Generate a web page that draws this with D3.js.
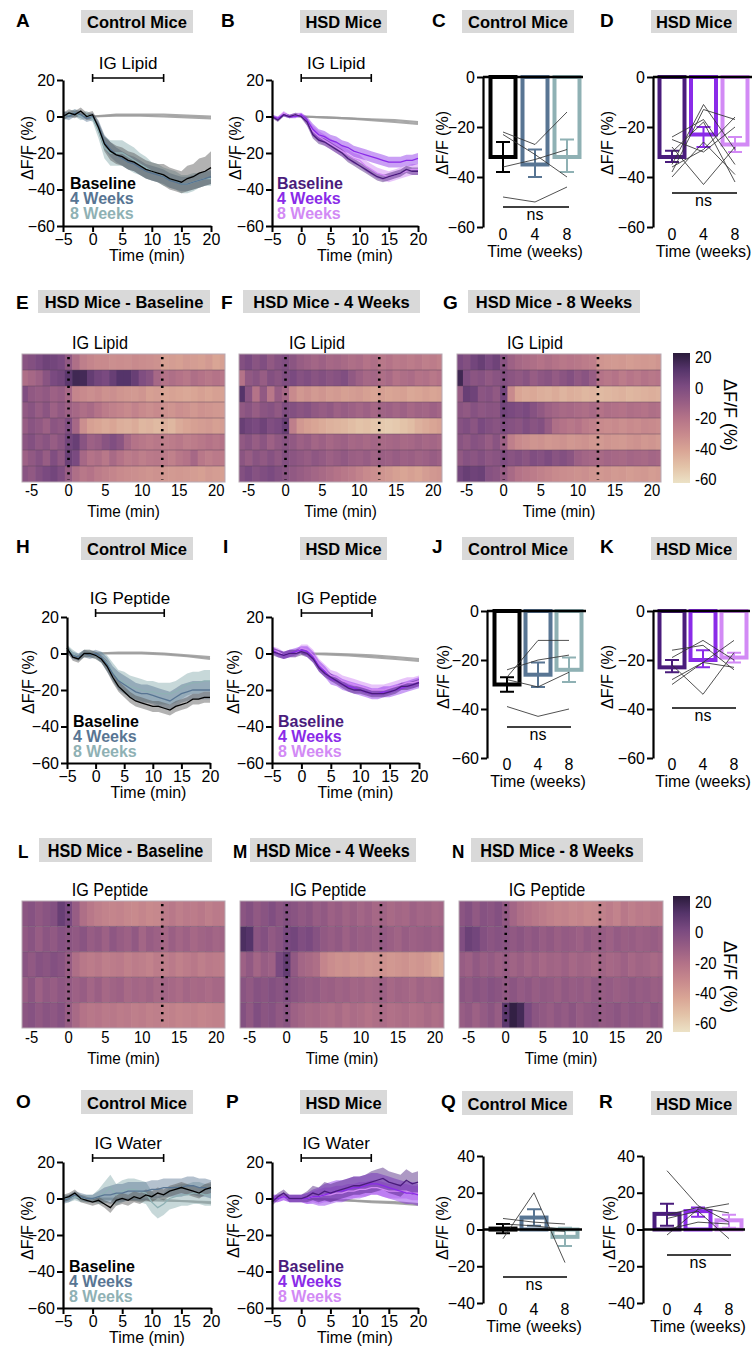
<!DOCTYPE html>
<meta charset="utf-8">
<style>
html,body{margin:0;padding:0;background:#fff;}
svg{display:block;}
</style>
<body>
<script src="https://d3js.org/d3.v7.min.js"></script>
<script>

// ---------- data ----------
var minutes = [-5,-4,-3,-2,-1,0,1,2,3,4,5,6,7,8,9,10,11,12,13,14,15,16,17,18,19,20];
var grayMinutes = [0,4,8,12,16,20];
var heatMinutes = [-6,-5,-4,-3,-2,-1,0,1,2,3,4,5,6,7,8,9,10,11,12,13,14,15,16,17,18,19,20,21];
var weeks = [0,4,8];
var infusion = [0,12];
var heatMarks = [0,12.7];
var legendNames = ["Baseline","4 Weeks","8 Weeks"];

// lipid, control
var ctlLipidBase = [0,2,1,3,0,1,-6,-15,-19,-21,-22,-24,-25,-27,-29,-30,-31,-32,-34,-35,-36,-34,-33,-31,-30,-28];
var ctlLipidBaseSem = [2,2,2,2,2,2,3,4,5,5,5,5,5,5,5,5,5,6,6,6,6,7,7,8,8,9];
var ctlLipid4w = [1,0,2,1,-1,0,-5,-14,-18,-21,-23,-25,-26,-28,-30,-31,-32,-33,-35,-36,-37,-37,-36,-35,-34,-33];
var ctlLipid4wSem = [2,2,2,2,2,2,3,4,4,4,4,4,4,4,4,4,4,4,4,4,4,4,4,4,4,4];
var ctlLipid8w = [0,1,2,0,1,-1,-8,-17,-20,-20,-20,-22,-24,-26,-28,-30,-31,-33,-34,-35,-37,-37,-36,-35,-34,-34];
var ctlLipid8wSem = [2,2,2,2,2,2,4,6,7,7,7,7,7,6,6,5,5,5,5,5,5,5,5,4,4,4];
var ctlLipidGray = [[0,1,1,1,0.5,0],[0,0.5,0.5,0,-0.5,-1]];

// lipid, HSD
var hsdLipidBase = [0,-2,1,0,1,0,-3,-10,-13,-14,-16,-18,-20,-23,-25,-27,-29,-31,-33,-34,-33,-32,-31,-29,-30,-30];
var hsdLipidBaseSem = [1,1,1,1,1,1,2,2,2,2,2,2,2,2,2,2,2,2,2,2,2,2,2,2,2,2];
var hsdLipid4w = [0,-1,1,0,0,1,-2,-7,-10,-11,-13,-14,-16,-17,-19,-20,-21,-22,-23,-24,-25,-25,-25,-24,-24,-23];
var hsdLipid4wSem = [1,1,1,1,1,1,2,3,3,3,3,3,3,3,3,3,3,3,3,3,3,3,3,3,3,3];
var hsdLipid8w = [0,-1,2,0,1,1,-3,-8,-11,-13,-15,-17,-19,-21,-23,-24,-27,-29,-31,-32,-33,-32,-31,-30,-29,-29];
var hsdLipid8wSem = [1,1,1,1,1,1,2,3,3,3,3,3,3,3,3,3,3,3,3,3,3,3,3,3,3,3];
var hsdLipidGray = [[0,-0.5,-1,-1.5,-2,-3],[0,-0.5,-1,-2,-3,-4]];

// peptide, control
var ctlPepBase = [3,-2,-3,0,0,-1,-3,-7,-13,-18,-21,-24,-26,-27,-28,-29,-29,-30,-31,-29,-28,-27,-25,-25,-24,-24];
var ctlPepBaseSem = [2,2,2,2,2,2,2,3,3,3,3,3,3,3,3,3,3,3,3,3,3,3,3,3,3,3];
var ctlPep4w = [2,-1,-2,0,-1,0,-2,-6,-11,-15,-17,-19,-21,-22,-22,-23,-24,-25,-26,-24,-22,-21,-20,-20,-20,-20];
var ctlPep4wSem = [2,2,2,2,2,2,3,4,4,5,5,5,5,5,5,5,5,5,5,5,5,5,5,5,5,5];
var ctlPep8w = [3,0,-2,0,0,-1,-2,-5,-10,-14,-16,-18,-19,-20,-21,-21,-22,-22,-22,-21,-19,-17,-16,-16,-15,-15];
var ctlPep8wSem = [2,2,2,2,2,2,3,4,5,5,6,6,6,6,6,6,6,6,6,6,6,6,6,6,6,6];
var ctlPepGray = [[0,0.5,0.5,0,-1,-2],[0,0,0,-0.5,-1.5,-3]];

// peptide, HSD
var hsdPepBase = [1,0,-1,0,0,1,0,-3,-8,-11,-13,-15,-17,-19,-20,-20,-21,-22,-22,-22,-21,-20,-18,-18,-17,-16];
var hsdPepBaseSem = [2,2,2,2,2,2,2,2,2,2,2,2,2,2,2,2,2,2,2,2,2,2,2,2,2,2];
var hsdPep4w = [2,0,-1,0,1,2,1,-2,-7,-10,-14,-15,-17,-18,-19,-20,-21,-22,-22,-21,-21,-20,-19,-18,-17,-16];
var hsdPep4wSem = [2,2,2,2,2,2,3,3,3,3,3,3,3,3,3,3,3,3,3,3,3,3,3,3,3,3];
var hsdPep8w = [2,1,-1,0,0,3,2,-1,-6,-9,-12,-13,-15,-16,-17,-18,-19,-20,-20,-20,-19,-18,-17,-16,-16,-15];
var hsdPep8wSem = [2,2,2,2,2,2,3,3,3,3,3,3,3,3,3,3,3,3,3,3,3,3,3,3,3,3];
var hsdPepGray = [[0,0,-0.5,-1,-2,-3],[0,-0.5,-1,-2,-3,-4]];

// water, control
var ctlWaterBase = [0,1,3,0,-1,-2,-1,-3,-5,-1,0,-1,1,0,2,1,3,2,4,5,6,5,4,3,5,6];
var ctlWaterBaseSem = [2,2,2,2,2,2,2,2,3,3,3,3,3,3,3,3,3,3,3,3,3,3,3,3,3,3];
var ctlWater4w = [-1,0,2,1,0,0,1,2,2,3,3,4,4,4,4,5,5,6,6,6,6,7,7,6,6,5];
var ctlWater4wSem = [2,2,2,2,2,2,3,4,5,5,5,5,5,5,5,5,5,5,5,5,5,5,5,5,5,5];
var ctlWater8w = [0,0,1,0,0,0,1,3,6,2,4,5,5,4,3,-2,-5,-3,0,1,2,2,3,3,2,2];
var ctlWater8wSem = [2,2,2,2,2,2,4,6,7,6,6,6,6,6,6,6,6,6,6,6,6,6,6,6,6,6];
var ctlWaterGray = [[0,-0.5,-1,-1,-1.5,-2],[0,0,-0.5,-1,-1.5,-2.5]];

// water, HSD
var hsdWaterBase = [-2,1,3,0,0,0,1,3,2,4,3,4,5,6,7,7,8,9,10,11,9,8,7,10,8,9];
var hsdWaterBaseSem = [2,2,2,2,2,2,3,4,4,5,5,5,5,5,5,5,5,6,6,6,6,6,6,6,6,6];
var hsdWater4w = [0,0,1,0,0,0,0,1,1,2,3,4,4,5,6,6,7,8,8,7,6,5,4,3,3,2];
var hsdWater4wSem = [2,2,2,2,2,2,3,4,5,6,6,6,6,6,6,6,6,6,6,6,6,6,6,6,6,6];
var hsdWater8w = [0,0,1,0,0,0,0,1,1,2,2,3,3,4,4,5,5,6,6,5,4,4,4,4,3,3];
var hsdWater8wSem = [2,2,2,2,2,2,3,3,4,4,4,4,4,4,4,4,4,4,4,4,4,4,4,4,4,4];
var hsdWaterGray = [[0,-0.5,-1,-1.5,-2,-3],[0,-0.5,-1,-2,-2.5,-3.5]];

// bar summaries (mean, error range, individual mice at 0/4/8 weeks)
var ctlLipidMeans = [-32,-35,-32];
var ctlLipidErr = [[-38,-26],[-40,-29],[-38,-25]];
var ctlLipidMice = [[-22,-27,-14],[-23,-31,-40],[-36,-33,-29],[-48,-50,-44]];
var hsdLipidMeans = [-32,-23,-27];
var hsdLipidErr = [[-34,-29.5],[-28,-20],[-30,-24]];
var hsdLipidMice = [[-38,-13,-17],[-24,-17,-35],[-36,-29,-16],[-28,-43,-28],[-40,-26,-39],[-30,-18,-42],[-25,-30,-20],[-35,-11,-29]];
var ctlPepMeans = [-30,-26,-24];
var ctlPepErr = [[-33,-27],[-31,-21],[-29,-19]];
var ctlPepMice = [[-27,-12,-12],[-24,-20,-18],[-28,-31,-25],[-39,-43,-40]];
var hsdPepMeans = [-23,-20,-19];
var hsdPepErr = [[-25,-20],[-23,-16],[-21,-17]];
var hsdPepMice = [[-16,-14,-24],[-19,-12,-20],[-22,-34,-17],[-28,-21,-12],[-30,-21,-23]];
var ctlWaterMeans = [0.5,6.5,-4];
var ctlWaterErr = [[-2,3],[2,11],[-9,1]];
var ctlWaterMice = [[-5,20,-18],[6,4,3],[3,2,0],[0,0,-1]];
var hsdWaterMeans = [8.5,10,5];
var hsdWaterErr = [[2,14],[7,12],[1,8]];
var hsdWaterMice = [[32,13,4],[-3,11,14],[8,12,9],[6,10,-5],[0,4,3]];

// heatmaps, one row per HSD mouse, columns = heatMinutes
var lipidHeatBase = [
 [-5,-3,0,3,2,0,-8,-18,-25,-28,-30,-30,-32,-31,-32,-30,-31,-32,-33,-38,-37,-38,-36,-37,-38,-36,-40,-38],
 [-18,-15,-12,-5,0,2,8,15,14,6,2,0,5,10,10,5,-2,-5,-15,-20,-18,-20,-22,-18,-20,-22,-20,-22],
 [-2,-8,-10,-8,-12,-10,-15,-28,-30,-32,-30,-33,-32,-34,-35,-36,-34,-38,-37,-40,-39,-40,-41,-40,-38,-40,-38,-39],
 [-8,-5,-10,-6,-12,-8,-12,-15,-18,-16,-20,-24,-26,-28,-30,-27,-30,-32,-30,-33,-34,-32,-33,-35,-33,-34,-35,-36],
 [-10,-5,-8,-12,-6,-8,-2,-15,-32,-38,-40,-42,-40,-43,-44,-42,-46,-45,-47,-44,-46,-42,-40,-38,-37,-36,-38,-37],
 [-6,-3,-8,-5,-10,-6,2,5,-5,-12,-10,-5,-2,-6,-15,-20,-22,-24,-22,-25,-24,-22,-25,-24,-22,-20,-22,-20],
 [-12,-8,-4,-10,-2,-8,4,0,-15,-20,-18,-22,-16,-20,-24,-22,-25,-23,-22,-24,-26,-22,-20,-15,-22,-25,-23,-24],
 [-5,-8,-3,0,2,-2,-10,-18,-22,-20,-24,-26,-28,-30,-31,-32,-33,-34,-33,-35,-36,-35,-36,-37,-38,-36,-37,-38]
];
var lipidHeat4w = [
 [-3,0,-5,-2,-8,-4,-2,-6,-10,-12,-14,-12,-15,-14,-16,-18,-17,-20,-18,-22,-20,-23,-22,-24,-22,-25,-24,-26],
 [-20,-8,-5,-10,-3,-6,-2,0,-4,-2,-5,-3,-6,-4,-2,-8,-12,-15,-14,-18,-16,-20,-18,-17,-20,-19,-22,-20],
 [10,-5,-20,-8,-22,-10,-15,-30,-35,-33,-36,-34,-37,-36,-38,-37,-36,-38,-40,-38,-40,-39,-38,-41,-40,-38,-40,-39],
 [-8,-5,-10,-6,-4,-8,-2,-3,-6,-4,-8,-10,-8,-12,-10,-12,-14,-12,-15,-13,-12,-14,-12,-15,-13,-14,-12,-14],
 [5,2,0,3,-2,0,5,-25,-35,-38,-40,-42,-44,-45,-46,-48,-50,-49,-51,-52,-53,-52,-50,-48,-44,-42,-40,-38],
 [-8,-5,-10,-6,-12,-8,-5,-8,-12,-10,-14,-12,-15,-13,-12,-15,-14,-16,-14,-16,-15,-14,-16,-15,-13,-15,-14,-16],
 [-6,-10,-5,-8,-4,-8,-3,-6,-8,-10,-7,-9,-12,-10,-8,-11,-12,-10,-13,-11,-12,-10,-12,-11,-13,-12,-10,-12],
 [-3,0,-4,-2,0,-3,-5,-8,-10,-12,-14,-16,-18,-20,-22,-24,-27,-30,-32,-34,-36,-38,-40,-38,-40,-37,-35,-34]
];
var lipidHeat8w = [
 [0,-3,2,5,0,3,-5,-12,-15,-17,-18,-20,-18,-20,-22,-21,-22,-24,-25,-34,-35,-36,-35,-37,-36,-35,-36,-34],
 [15,-2,-6,-4,-8,-5,-3,-6,-8,-5,-10,-7,-5,-9,-6,-3,-8,-5,-10,-20,-22,-20,-24,-21,-23,-20,-22,-21],
 [-10,5,3,-6,-4,-8,2,-30,-40,-42,-41,-43,-44,-42,-45,-43,-44,-46,-45,-47,-46,-45,-44,-46,-45,-44,-43,-44],
 [-6,-8,-4,-7,-5,-6,2,0,-2,0,-4,-8,-12,-14,-16,-15,-17,-18,-16,-20,-18,-19,-20,-18,-19,-20,-18,-19],
 [-4,-2,-6,0,-3,-5,-2,-4,-6,-2,-5,-3,-10,-18,-20,-22,-20,-24,-26,-30,-31,-30,-32,-30,-31,-29,-30,-31],
 [-5,-8,-4,-6,-10,-5,-12,-25,-30,-32,-34,-33,-35,-34,-33,-35,-34,-33,-35,-36,-34,-35,-36,-34,-33,-35,-34,-36],
 [-8,-4,-6,-3,-7,-5,-2,-5,-3,-6,-2,-4,-1,-5,-3,-6,-12,-14,-15,-16,-14,-15,-16,-14,-15,-16,-14,-15],
 [2,5,3,4,-4,-6,-10,-16,-20,-22,-24,-26,-28,-30,-31,-32,-33,-32,-34,-35,-34,-36,-35,-37,-36,-35,-37,-36]
];
var pepHeatBase = [
 [-6,-4,-8,-5,-3,5,0,-10,-18,-22,-25,-27,-28,-27,-29,-30,-28,-30,-29,-24,-22,-25,-23,-24,-22,-25,-23,-24],
 [-8,-5,-10,-6,-8,-4,-6,-8,-5,-10,-8,-12,-7,-10,-12,-8,-14,-10,-12,-15,-11,-14,-12,-15,-13,-12,-14,-13],
 [-5,-8,-4,-6,-3,-5,-10,-18,-22,-24,-22,-25,-24,-23,-26,-24,-25,-27,-24,-25,-23,-26,-24,-22,-25,-23,-24,-25],
 [-10,-6,-12,-8,-10,-7,-9,-12,-10,-14,-11,-15,-13,-12,-16,-14,-15,-13,-16,-14,-15,-17,-14,-16,-15,-17,-15,-16],
 [-6,-4,-8,-5,-7,-4,-10,-16,-20,-22,-21,-23,-22,-24,-23,-25,-24,-26,-25,-27,-26,-28,-27,-26,-28,-27,-26,-27]
];
var pepHeat4w = [
 [-6,-3,-8,-5,-2,-6,-3,-5,-8,-6,-10,-8,-12,-10,-13,-11,-14,-12,-15,-13,-16,-14,-15,-12,-14,-13,-15,-14],
 [12,10,-6,-3,-8,-5,0,2,-2,0,-4,-8,-10,-8,-12,-9,-11,-10,-12,-9,-11,-13,-10,-12,-11,-10,-12,-11],
 [-12,-8,-14,-10,-12,0,6,-8,-14,-16,-18,-28,-31,-33,-32,-34,-33,-35,-34,-33,-35,-34,-33,-35,-34,-36,-40,-42],
 [-5,-8,-4,-6,-3,-5,-2,-6,-8,-10,-9,-12,-11,-13,-12,-14,-13,-15,-14,-12,-15,-13,-14,-16,-13,-15,-14,-13],
 [-3,-8,-2,-6,-4,-8,-5,-12,-14,-16,-15,-17,-18,-16,-19,-17,-18,-20,-18,-17,-19,-18,-17,-19,-18,-16,-18,-17]
];
var pepHeat8w = [
 [-6,-3,-8,-4,-6,-3,-8,-14,-18,-20,-22,-24,-26,-28,-27,-29,-28,-30,-29,-26,-24,-27,-22,-25,-23,-24,-22,-23],
 [-2,4,2,-3,-6,-4,-5,-8,-6,-9,-7,-10,-8,-11,-9,-10,-12,-9,-11,-10,-12,-9,-11,-10,-12,-11,-10,-12],
 [-10,-12,-8,-11,-9,-12,-10,-13,-11,-14,-12,-15,-13,-14,-12,-15,-13,-14,-16,-13,-15,-14,-12,-15,-13,-14,-16,-14],
 [-6,-8,-5,-7,-4,-6,-8,-6,-9,-7,-10,-8,-9,-11,-8,-10,-9,-11,-8,-10,-9,-11,-10,-8,-10,-9,-11,-10],
 [-10,-8,-12,-9,-6,-10,8,18,14,0,-6,-8,-10,-7,-9,-6,-10,-8,-7,-9,-8,-6,-9,-7,-8,-10,-7,-9]
];

var ctlColors = ["#000000","#587593","#8fb1b4"];
var ctlBands = ["#555555","#587593","#8fb1b4"];
var hsdColors = ["#4a1c7c","#8a2be8","#d28af5"];
var heatStops = [-60,-50,-40,-30,-20,-10,0,10,20];
var heatColors = ["#ece2c6","#e3c3a8","#d9a595","#c88a8d","#b47388","#975d84","#7a4a80","#55346a","#2a1b3b"];

// ---------- drawing ----------
var FONT = '"Liberation Sans", Arial, Helvetica, sans-serif';
var heatColor = d3.scaleLinear().domain(heatStops).range(heatColors).clamp(true);

var svg = d3.select("body").append("svg")
    .attr("width", 754).attr("height", 1349)
    .attr("font-family", FONT);

function txt(x, y, s, o){
  o = o || {};
  var t = svg.append("text").text(s)
    .attr("font-size", o.size || 16)
    .attr("text-anchor", o.anchor || "middle")
    .attr("font-weight", o.bold ? "bold" : "normal")
    .attr("fill", o.fill || "#000");
  var tr = "translate(" + x + "," + y + ")";
  if(o.rot){ tr += " rotate(" + o.rot + ")"; t.attr("dominant-baseline", "central"); }
  if(o.sx) tr += " scale(" + o.sx + ",1)";
  t.attr("transform", tr);
  return t;
}

function title(letter, lx, by, box, label, sx, size){
  svg.append("rect").attr("x", box[0]).attr("y", box[1])
    .attr("width", box[2]-box[0]).attr("height", box[3]-box[1]).attr("fill", "#d9d9d9");
  txt(lx, by, letter, {size:19, bold:true, anchor:"start", sx:sx});
  txt((box[0]+box[2])/2, box[3]-5.5, label, {size:size || 16.5, bold:true, sx:sx});
}

function styleAxis(a){
  a.attr("font-size", 16).attr("font-family", FONT);
  a.select(".domain").attr("stroke-width", 2.2);
  a.selectAll(".tick line").attr("stroke-width", 2);
  a.selectAll(".tick text").attr("fill", "#000");
}

function tracePanel(p){
  var x = d3.scaleLinear([-5,20], [p.x0, p.x1]);
  var y = d3.scaleLinear([-60,20], [p.yB, p.yT]);
  var g = svg.append("g");

  p.gray.forEach(function(gv){
    g.append("path").datum(gv)
      .attr("d", d3.line().x(function(d,i){ return x(grayMinutes[i]); }).y(function(d){ return y(d); }))
      .attr("fill", "none").attr("stroke", "#9a9a9a").attr("stroke-width", 2.2).attr("opacity", 0.85);
  });

  [2,1,0].forEach(function(k){
    var m = p.mean[k], s = p.sem[k];
    g.append("path").datum(m)
      .attr("d", d3.area().x(function(d,i){ return x(minutes[i]); })
        .y0(function(d,i){ return y(d - s[i]); }).y1(function(d,i){ return y(d + s[i]); }))
      .attr("fill", p.bands[k]).attr("opacity", k == 2 ? 0.5 : 0.45);
  });
  [2,1,0].forEach(function(k){
    g.append("path").datum(p.mean[k])
      .attr("d", d3.line().x(function(d,i){ return x(minutes[i]); }).y(function(d){ return y(d); }))
      .attr("fill", "none").attr("stroke", p.colors[k]).attr("stroke-width", 1.3);
  });

  var ay = g.append("g").attr("transform", "translate(" + p.x0 + ",0)")
    .call(d3.axisLeft(y).tickValues([20,0,-20,-40,-60]).tickSize(6).tickSizeOuter(0).tickPadding(2));
  styleAxis(ay);
  var ax = g.append("g").attr("transform", "translate(0," + p.yB + ")")
    .call(d3.axisBottom(x).tickValues([-5,0,5,10,15,20]).tickSize(6).tickSizeOuter(0).tickPadding(2));
  styleAxis(ax);

  // infusion bracket
  var by = p.bracketY;
  g.append("path")
    .attr("d", "M" + x(infusion[0]) + "," + (by-4) + "V" + (by+4) + "M" + x(infusion[0]) + "," + by +
      "H" + x(infusion[1]) + "M" + x(infusion[1]) + "," + (by-4) + "V" + (by+4))
    .attr("stroke", "#000").attr("stroke-width", 1.6).attr("fill", "none");
  txt((x(infusion[0]) + x(infusion[1]))/2, by - 9, p.label, {size:17});

  txt((p.x0 + p.x1)/2 + 10, p.yB + 35, "Time (min)", {size:16});
  txt(p.ylabX, p.ylabY, "\u0394F/F (%)", {size:16, rot:-90});

  legendNames.forEach(function(n, k){
    txt(p.legX, p.legY + k*15, n, {size:16, bold:true, anchor:"start", fill:p.colors[k]});
  });
}

function barPanel(p){
  var y = d3.scaleLinear(p.dom, [p.yB, p.yT]);
  var xw = d3.scaleLinear([0,8], [p.w0x, p.w8x]);
  var g = svg.append("g");

  weeks.forEach(function(w, k){
    var v = p.means[k];
    g.append("rect").attr("x", xw(w) - 12.5).attr("width", 25)
      .attr("y", Math.min(y(0), y(v))).attr("height", Math.max(1, Math.abs(y(v) - y(0))))
      .attr("fill", "none").attr("stroke", p.colors[k]).attr("stroke-width", 4);
    var e = p.err[k];
    g.append("path")
      .attr("d", "M" + xw(w) + "," + y(e[0]) + "V" + y(e[1]) +
        "M" + (xw(w)-7) + "," + y(e[0]) + "H" + (xw(w)+7) +
        "M" + (xw(w)-7) + "," + y(e[1]) + "H" + (xw(w)+7))
      .attr("stroke", p.colors[k]).attr("stroke-width", 2).attr("fill", "none");
  });

  p.mice.forEach(function(m){
    g.append("path").datum(m)
      .attr("d", d3.line().x(function(d,i){ return xw(weeks[i]); }).y(function(d){ return y(d); }))
      .attr("fill", "none").attr("stroke", "#333").attr("stroke-width", 1).attr("opacity", 0.85);
  });

  g.append("line").attr("x1", p.ax).attr("x2", p.zeroEnd).attr("y1", y(0)).attr("y2", y(0))
    .attr("stroke", "#000").attr("stroke-width", 2.6);

  var ay = g.append("g").attr("transform", "translate(" + p.ax + ",0)")
    .call(d3.axisLeft(y).tickValues(p.ticks).tickSize(6).tickSizeOuter(0).tickPadding(2));
  styleAxis(ay);

  weeks.forEach(function(w){ txt(xw(w), p.tickY, String(w), {size:16}); });
  txt(xw(4), p.titleY, "Time (weeks)", {size:16});

  g.append("line").attr("x1", xw(0)).attr("x2", xw(8) + 2).attr("y1", p.nsY).attr("y2", p.nsY)
    .attr("stroke", "#000").attr("stroke-width", 1.5);
  txt(xw(4), p.nsY + 13, "ns", {size:16});
  txt(p.ylabX, p.ylabY, "\u0394F/F (%)", {size:16, rot:-90});
}

function heatPanel(p){
  var x = d3.scaleLinear([-6.3, 21.2], [p.x0, p.x1]);
  var rh = (p.y1 - p.y0) / p.rows.length;
  var g = svg.append("g");
  p.rows.forEach(function(row, r){
    g.selectAll(null).data(row).enter().append("rect")
      .attr("x", function(d,i){ return Math.max(p.x0, x(heatMinutes[i] - 0.5)); })
      .attr("width", function(d,i){
        var a = Math.max(p.x0, x(heatMinutes[i] - 0.5)), b = Math.min(p.x1, x(heatMinutes[i] + 0.5));
        return b - a + (b < p.x1 ? 0.6 : 0);
      })
      .attr("y", p.y0 + r*rh).attr("height", rh)
      .attr("fill", function(d){ return heatColor(d); });
  });
  for(var r = 1; r < p.rows.length; r++){
    g.append("line").attr("x1", p.x0).attr("x2", p.x1).attr("y1", p.y0 + r*rh).attr("y2", p.y0 + r*rh)
      .attr("stroke", "#5a4258").attr("stroke-opacity", 0.45).attr("stroke-width", 1);
  }
  g.append("rect").attr("x", p.x0).attr("y", p.y0).attr("width", p.x1 - p.x0).attr("height", p.y1 - p.y0)
    .attr("fill", "none").attr("stroke", "#b9aab4").attr("stroke-width", 1);
  heatMarks.forEach(function(t){
    g.append("line").attr("x1", x(t)).attr("x2", x(t)).attr("y1", p.y0 + 3).attr("y2", p.y1 - 2)
      .attr("stroke", "#000").attr("stroke-width", 2.6).attr("stroke-dasharray", "2.2,5");
  });
  txt(p.x0 + p.labelDx, p.labelY, p.label, {size:18, sx:0.9});
  [-5,0,5,10,15,20].forEach(function(t){ txt(x(t), p.tickY, String(t), {size:16.5, sx:0.9}); });
  txt((p.x0 + p.x1)/2, p.titleY, "Time (min)", {size:17, sx:0.9});
}

var gradId = 0;
function colorbar(x0, x1, yT, yB, v20, vM60, tCenter){
  var id = "cb" + (gradId++);
  var grad = svg.append("defs").append("linearGradient").attr("id", id)
    .attr("x1", 0).attr("x2", 0).attr("y1", 1).attr("y2", 0);
  heatStops.forEach(function(v, i){
    grad.append("stop").attr("offset", (v + 60)/80).attr("stop-color", heatColors[i]);
  });
  svg.append("rect").attr("x", x0).attr("y", yT).attr("width", x1 - x0).attr("height", yB - yT)
    .attr("fill", "url(#" + id + ")");
  var y = d3.scaleLinear([-60,20], [vM60, v20]);
  [20,0,-20,-40,-60].forEach(function(v){
    txt(x1 + 5, y(v) + 6, String(v), {size:17, anchor:"start", sx:0.88});
  });
  txt(730, tCenter, "\u0394F/F (%)", {size:18, rot:90});
}

// ---------- row 1: lipid ----------
title("A", 16, 27, [81,10,193,33], "Control Mice");
title("B", 221, 27, [300,10,387,33], "HSD Mice");
title("C", 432, 27, [462,10,574,33], "Control Mice");
title("D", 600, 27, [651,10,737,33], "HSD Mice");

tracePanel({x0:63, x1:211, yT:80, yB:226, bracketY:78, label:"IG Lipid",
  mean:[ctlLipidBase, ctlLipid4w, ctlLipid8w], sem:[ctlLipidBaseSem, ctlLipid4wSem, ctlLipid8wSem],
  gray:ctlLipidGray, colors:ctlColors, bands:ctlBands, legX:70, legY:189, ylabX:27, ylabY:148});
tracePanel({x0:272, x1:418, yT:80, yB:226, bracketY:78, label:"IG Lipid",
  mean:[hsdLipidBase, hsdLipid4w, hsdLipid8w], sem:[hsdLipidBaseSem, hsdLipid4wSem, hsdLipid8wSem],
  gray:hsdLipidGray, colors:hsdColors, bands:hsdColors, legX:277, legY:189, ylabX:235, ylabY:148});

barPanel({ax:483, yT:77, yB:227, dom:[-60,0], ticks:[0,-20,-40,-60], w0x:503, w8x:567, zeroEnd:583,
  means:ctlLipidMeans, err:ctlLipidErr, mice:ctlLipidMice, colors:ctlColors,
  nsY:207, tickY:240, titleY:257, ylabX:442, ylabY:143});
barPanel({ax:653, yT:77, yB:227, dom:[-60,0], ticks:[0,-20,-40,-60], w0x:672, w8x:735, zeroEnd:752,
  means:hsdLipidMeans, err:hsdLipidErr, mice:hsdLipidMice, colors:hsdColors,
  nsY:193, tickY:240, titleY:257, ylabX:607, ylabY:143});

// ---------- row 2: lipid heatmaps ----------
title("E", 16, 309, [38,290,210,313], "HSD Mice - Baseline");
title("F", 221, 309, [243,290,420,313], "HSD Mice - 4 Weeks");
title("G", 443, 309, [468,290,640,313], "HSD Mice - 8 Weeks");
[[22,225,lipidHeatBase],[239,442,lipidHeat4w],[457,661,lipidHeat8w]].forEach(function(h){
  heatPanel({x0:h[0], x1:h[1], y0:354, y1:482, rows:h[2], label:"IG Lipid", labelDx:78,
    labelY:349, tickY:496, titleY:517});
});
colorbar(673, 690, 353, 483, 357, 479, 415);

// ---------- row 3: peptide ----------
title("H", 16, 553, [81,537,193,560], "Control Mice");
title("I", 223, 553, [300,537,387,560], "HSD Mice");
title("J", 432, 553, [462,537,574,560], "Control Mice");
title("K", 600, 553, [651,537,737,560], "HSD Mice");

tracePanel({x0:67, x1:210, yT:617, yB:763, bracketY:613, label:"IG Peptide",
  mean:[ctlPepBase, ctlPep4w, ctlPep8w], sem:[ctlPepBaseSem, ctlPep4wSem, ctlPep8wSem],
  gray:ctlPepGray, colors:ctlColors, bands:ctlBands, legX:73, legY:727, ylabX:28, ylabY:682});
tracePanel({x0:272, x1:419, yT:617, yB:763, bracketY:613, label:"IG Peptide",
  mean:[hsdPepBase, hsdPep4w, hsdPep8w], sem:[hsdPepBaseSem, hsdPep4wSem, hsdPep8wSem],
  gray:hsdPepGray, colors:hsdColors, bands:hsdColors, legX:278, legY:727, ylabX:233, ylabY:682});

barPanel({ax:487, yT:611, yB:758, dom:[-60,0], ticks:[0,-20,-40,-60], w0x:507, w8x:569, zeroEnd:586,
  means:ctlPepMeans, err:ctlPepErr, mice:ctlPepMice, colors:ctlColors,
  nsY:727, tickY:770, titleY:787, ylabX:443, ylabY:677});
barPanel({ax:653, yT:611, yB:758, dom:[-60,0], ticks:[0,-20,-40,-60], w0x:672, w8x:734, zeroEnd:750,
  means:hsdPepMeans, err:hsdPepErr, mice:hsdPepMice, colors:hsdColors,
  nsY:708, tickY:770, titleY:787, ylabX:607, ylabY:677});

// ---------- row 4: peptide heatmaps ----------
title("L", 18, 858, [39,838,212,862], "HSD Mice - Baseline", 0.9, 18);
title("M", 233, 858, [250,838,416,862], "HSD Mice - 4 Weeks", 0.9, 18);
title("N", 452, 858, [471,838,643,862], "HSD Mice - 8 Weeks", 0.9, 18);
[[22,225,pepHeatBase],[240,444,pepHeat4w],[459,663,pepHeat8w]].forEach(function(h){
  heatPanel({x0:h[0], x1:h[1], y0:901, y1:1028, rows:h[2], label:"IG Peptide", labelDx:88,
    labelY:896, tickY:1043, titleY:1064});
});
colorbar(673, 690, 896, 1032, 902, 1023, 977);

// ---------- row 5: water ----------
title("O", 16, 1108, [81,1090,193,1114], "Control Mice");
title("P", 226, 1108, [300,1090,387,1114], "HSD Mice");
title("Q", 441, 1108, [462,1091,573,1115], "Control Mice");
title("R", 599, 1108, [651,1091,737,1115], "HSD Mice");

tracePanel({x0:63, x1:211, yT:1162, yB:1308, bracketY:1158, label:"IG Water",
  mean:[ctlWaterBase, ctlWater4w, ctlWater8w], sem:[ctlWaterBaseSem, ctlWater4wSem, ctlWater8wSem],
  gray:ctlWaterGray, colors:ctlColors, bands:ctlBands, legX:69, legY:1272, ylabX:27, ylabY:1228});
tracePanel({x0:272, x1:418, yT:1162, yB:1308, bracketY:1158, label:"IG Water",
  mean:[hsdWaterBase, hsdWater4w, hsdWater8w], sem:[hsdWaterBaseSem, hsdWater4wSem, hsdWater8wSem],
  gray:hsdWaterGray, colors:hsdColors, bands:hsdColors, legX:278, legY:1272, ylabX:233, ylabY:1226});

barPanel({ax:483, yT:1156, yB:1303, dom:[-40,40], ticks:[40,20,0,-20,-40], w0x:503, w8x:565, zeroEnd:582,
  means:ctlWaterMeans, err:ctlWaterErr, mice:ctlWaterMice, colors:ctlColors,
  nsY:1277, tickY:1315, titleY:1332, ylabX:442, ylabY:1228});
barPanel({ax:643, yT:1156, yB:1303, dom:[-40,40], ticks:[40,20,0,-20,-40], w0x:667, w8x:729, zeroEnd:745,
  means:hsdWaterMeans, err:hsdWaterErr, mice:hsdWaterMice, colors:hsdColors,
  nsY:1255, tickY:1315, titleY:1332, ylabX:609, ylabY:1228});

</script>
</body>
